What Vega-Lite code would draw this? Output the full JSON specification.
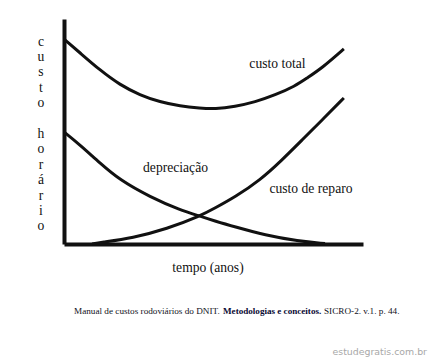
{
  "$schema": "https://vega.github.io/schema/vega-lite/v6.json",
  "width": 299,
  "height": 225,
  "autosize": {"type": "none"},
  "padding": {"left": 64, "top": 19, "right": 66, "bottom": 115},
  "background": "#ffffff",
  "config": {"view": {"stroke": null}},
  "layer": [
    {
      "data": {"values": [
        {"serie": "custo total", "tempo": 0.0, "custo": 9.11},
        {"serie": "custo total", "tempo": 0.54, "custo": 8.49},
        {"serie": "custo total", "tempo": 1.2, "custo": 7.73},
        {"serie": "custo total", "tempo": 1.87, "custo": 7.07},
        {"serie": "custo total", "tempo": 2.54, "custo": 6.62},
        {"serie": "custo total", "tempo": 3.21, "custo": 6.31},
        {"serie": "custo total", "tempo": 3.88, "custo": 6.13},
        {"serie": "custo total", "tempo": 4.55, "custo": 6.04},
        {"serie": "custo total", "tempo": 5.05, "custo": 6.0},
        {"serie": "custo total", "tempo": 5.72, "custo": 6.11},
        {"serie": "custo total", "tempo": 6.39, "custo": 6.31},
        {"serie": "custo total", "tempo": 7.06, "custo": 6.62},
        {"serie": "custo total", "tempo": 7.73, "custo": 7.02},
        {"serie": "custo total", "tempo": 8.13, "custo": 7.38},
        {"serie": "custo total", "tempo": 8.63, "custo": 7.82},
        {"serie": "custo total", "tempo": 9.36, "custo": 8.67},
        {"serie": "depreciação", "tempo": 0.0, "custo": 4.98},
        {"serie": "depreciação", "tempo": 0.54, "custo": 4.4},
        {"serie": "depreciação", "tempo": 1.2, "custo": 3.6},
        {"serie": "depreciação", "tempo": 1.87, "custo": 2.84},
        {"serie": "depreciação", "tempo": 2.88, "custo": 2.09},
        {"serie": "depreciação", "tempo": 3.88, "custo": 1.51},
        {"serie": "depreciação", "tempo": 4.55, "custo": 1.24},
        {"serie": "depreciação", "tempo": 5.05, "custo": 1.02},
        {"serie": "depreciação", "tempo": 5.72, "custo": 0.76},
        {"serie": "depreciação", "tempo": 6.72, "custo": 0.4},
        {"serie": "depreciação", "tempo": 7.83, "custo": 0.13},
        {"serie": "depreciação", "tempo": 8.73, "custo": 0.02},
        {"serie": "custo de reparo", "tempo": 0.94, "custo": 0.0},
        {"serie": "custo de reparo", "tempo": 1.2, "custo": 0.06},
        {"serie": "custo de reparo", "tempo": 2.31, "custo": 0.27},
        {"serie": "custo de reparo", "tempo": 3.44, "custo": 0.67},
        {"serie": "custo de reparo", "tempo": 4.55, "custo": 1.24},
        {"serie": "custo de reparo", "tempo": 5.05, "custo": 1.6},
        {"serie": "custo de reparo", "tempo": 5.72, "custo": 2.09},
        {"serie": "custo de reparo", "tempo": 6.56, "custo": 2.84},
        {"serie": "custo de reparo", "tempo": 7.29, "custo": 3.73},
        {"serie": "custo de reparo", "tempo": 7.96, "custo": 4.62},
        {"serie": "custo de reparo", "tempo": 8.63, "custo": 5.51},
        {"serie": "custo de reparo", "tempo": 9.36, "custo": 6.49}
      ]},
      "mark": {"type": "line", "interpolate": "basis", "strokeWidth": 3, "color": "#111111", "strokeCap": "butt"},
      "encoding": {
        "x": {
          "field": "tempo", "type": "quantitative",
          "scale": {"domain": [0, 10], "nice": false, "zero": false},
          "axis": {
            "domain": true, "domainWidth": 4, "domainColor": "#111111",
            "ticks": false, "labels": false, "grid": false,
            "title": "tempo (anos)",
            "titleFont": "Liberation Serif", "titleFontSize": 13.6, "titleFontWeight": "normal",
            "titleColor": "#111111", "titleX": 143.5, "titleY": 27,
            "titleAlign": "center", "titleBaseline": "alphabetic"
          }
        },
        "y": {
          "field": "custo", "type": "quantitative",
          "scale": {"domain": [0, 10], "nice": false, "zero": false},
          "axis": {
            "domain": true, "domainWidth": 4, "domainColor": "#111111",
            "ticks": false, "labels": false, "grid": false,
            "title": ["c", "u", "s", "t", "o", "\u200b", "h", "o", "r", "á", "r", "i", "o"],
            "titleFont": "Liberation Serif", "titleFontSize": 13.6, "titleFontWeight": "normal",
            "titleColor": "#111111", "titleAngle": 0, "titleX": -23.5, "titleY": 26,
            "titleAlign": "center", "titleBaseline": "alphabetic", "titleLineHeight": 15.4
          }
        },
        "detail": {"field": "serie"}
      }
    },
    {
      "data": {"values": [
        {"texto": "custo total", "tempo": 7.14, "custo": 7.84},
        {"texto": "depreciação", "tempo": 3.73, "custo": 3.19},
        {"texto": "custo de reparo", "tempo": 8.26, "custo": 2.27}
      ]},
      "mark": {"type": "text", "font": "Liberation Serif", "fontSize": 13.6, "color": "#111111", "align": "center", "baseline": "alphabetic"},
      "encoding": {
        "x": {"field": "tempo", "type": "quantitative"},
        "y": {"field": "custo", "type": "quantitative"},
        "text": {"field": "texto"}
      }
    },
    {
      "data": {"values": [
        {"texto": "Manual de custos rodoviários do DNIT.", "tempo": 0.334, "custo": -3.11},
        {"texto": "SICRO-2. v.1. p. 44.", "tempo": 8.696, "custo": -3.11}
      ]},
      "mark": {"type": "text", "font": "Liberation Serif", "fontSize": 9.2, "color": "#111122", "align": "left", "baseline": "alphabetic"},
      "encoding": {
        "x": {"field": "tempo", "type": "quantitative"},
        "y": {"field": "custo", "type": "quantitative"},
        "text": {"field": "texto"}
      }
    },
    {
      "data": {"values": [
        {"texto": "Metodologias e conceitos.", "tempo": 5.318, "custo": -3.11}
      ]},
      "mark": {"type": "text", "font": "Liberation Serif", "fontSize": 9.1, "fontWeight": "bold", "color": "#0a0a33", "align": "left", "baseline": "alphabetic"},
      "encoding": {
        "x": {"field": "tempo", "type": "quantitative"},
        "y": {"field": "custo", "type": "quantitative"},
        "text": {"field": "texto"}
      }
    },
    {
      "data": {"values": [
        {"texto": "estudegratis.com.br", "tempo": 12.14, "custo": -4.93}
      ]},
      "mark": {"type": "text", "font": "DejaVu Sans", "fontSize": 9.4, "color": "#a8a8a8", "align": "right", "baseline": "alphabetic"},
      "encoding": {
        "x": {"field": "tempo", "type": "quantitative"},
        "y": {"field": "custo", "type": "quantitative"},
        "text": {"field": "texto"}
      }
    }
  ]
}
